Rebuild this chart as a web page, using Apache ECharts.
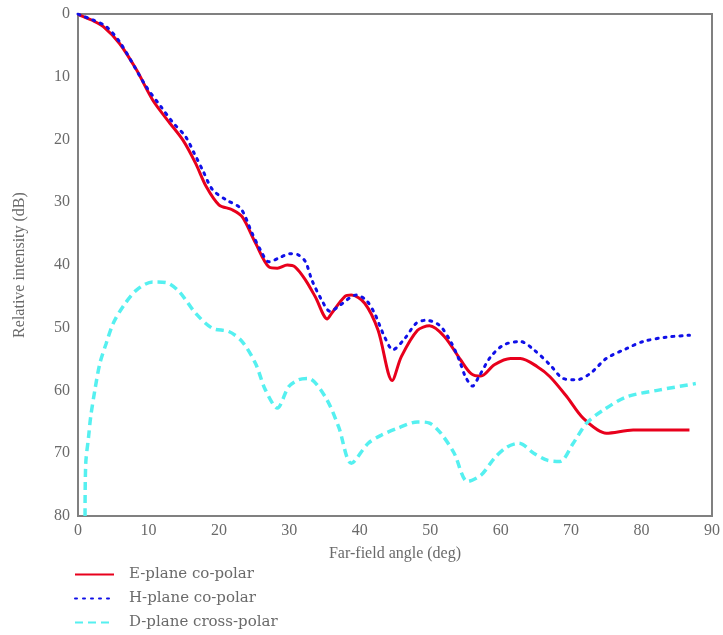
<!DOCTYPE html>
<html>
<head>
<meta charset="utf-8">
<script src="https://cdn.jsdelivr.net/npm/echarts@6/dist/echarts.min.js"></script>
<style>html,body{margin:0;padding:0;background:#fff}#c{width:723px;height:635px}</style>
</head>
<body>
<div id="c"></div>
<script>
var xTicks = [0, 10, 20, 30, 40, 50, 60, 70, 80, 90];
var yTicks = [0, 10, 20, 30, 40, 50, 60, 70, 80];
var seriesNames = ['E-plane co-polar', 'H-plane co-polar', 'D-plane cross-polar'];

var eAngle = [0, 0.3, 2, 3.6, 5.9, 8.3, 10.6, 12.7, 14.9, 16.7, 18.2, 20.0, 21.9, 23.3, 25.2, 27.1, 28.3, 29.7, 30.8, 32.3, 33.7, 35.4, 36.0, 37.9, 38.8, 40.7, 42.6, 44.6, 45.9, 48.2, 49.9, 52.0, 54.3, 55.8, 57.2, 59.1, 61.4, 62.8, 65.2, 67.0, 69.4, 71.7, 75.0, 78.8, 86.8];
var eDb    = [0, 0.2, 1.0, 2.0, 4.7, 8.9, 13.7, 16.9, 20.1, 23.8, 27.5, 30.4, 31.2, 32.3, 36.5, 40.3, 40.5, 40.0, 40.3, 42.4, 45.1, 48.6, 47.7, 45.0, 44.8, 46.1, 50.4, 58.4, 54.6, 50.4, 49.7, 51.4, 55.1, 57.3, 57.7, 55.9, 54.9, 54.9, 56.2, 57.8, 61.0, 64.4, 66.8, 66.3, 66.3];

var hAngle = [0, 0.4, 2, 4.0, 6.0, 9.7, 11.8, 13.4, 15.3, 16.5, 17.7, 19.1, 21.0, 23.1, 24.7, 25.9, 27.1, 28.5, 30.1, 31.3, 32.3, 33.2, 34.6, 35.8, 37.2, 39.5, 40.9, 42.1, 43.5, 44.7, 46.4, 48.0, 49.4, 51.3, 52.9, 54.1, 55.0, 56.0, 56.9, 58.6, 60.5, 62.8, 64.7, 67.0, 68.9, 70.8, 72.7, 75.0, 77.9, 80.2, 83.5, 86.8];
var hDb    = [0, 0.2, 0.9, 2.0, 4.6, 11.6, 14.8, 17.2, 19.6, 22.2, 24.9, 28.0, 29.6, 31.0, 34.9, 37.6, 39.5, 38.9, 38.2, 38.4, 39.5, 42.4, 45.6, 47.4, 46.4, 44.8, 45.6, 47.7, 51.4, 53.5, 51.7, 49.3, 48.8, 49.6, 52.2, 55.1, 57.8, 59.3, 57.8, 54.6, 52.7, 52.2, 53.5, 55.9, 58.1, 58.3, 57.3, 54.9, 53.3, 52.2, 51.5, 51.2];

var dAngle = [1.0, 1.1, 1.5, 1.8, 2.4, 3.1, 4.0, 5.0, 6.4, 8.3, 10.6, 12.5, 14.4, 16.7, 19.1, 21.4, 23.3, 25.2, 26.6, 28.3, 29.9, 31.3, 32.7, 35.1, 37.0, 38.8, 41.2, 43.1, 45.4, 48.2, 49.9, 51.5, 53.4, 55.3, 57.2, 59.1, 60.9, 62.6, 64.7, 66.6, 68.4, 70.3, 72.2, 74.6, 77.9, 82.6, 87.7];
var dDb    = [80, 71.6, 67.4, 64.2, 59.9, 55.7, 52.5, 49.3, 46.6, 44.0, 42.7, 42.8, 44.3, 47.7, 50.1, 50.6, 52.2, 55.7, 59.9, 62.8, 59.4, 58.3, 58.1, 61.0, 65.8, 71.6, 68.4, 67.1, 66.0, 65.0, 65.2, 66.8, 70.0, 74.5, 73.5, 70.8, 69.0, 68.4, 70.0, 71.1, 71.3, 68.4, 65.2, 63.1, 61.0, 59.9, 58.9];

function zip(a, b) { return a.map(function (v, i) { return [v, b[i]]; }); }

var font = 'Liberation Serif, Times New Roman, serif';
var txt = '#6a6a6a';

var chart = echarts.init(document.getElementById('c'));
chart.setOption({
  animation: false,
  grid: { left: 78, top: 14, right: 7, bottom: 119, show: true, borderColor: '#808080', borderWidth: 2, backgroundColor: 'transparent' },
  xAxis: {
    type: 'value', min: xTicks[0], max: xTicks[xTicks.length - 1], interval: 10,
    name: 'Far-field angle (deg)', nameLocation: 'middle', nameGap: 30,
    nameTextStyle: { fontFamily: font, fontSize: 16, color: txt },
    axisLine: { show: false }, axisTick: { show: false }, splitLine: { show: false },
    axisLabel: { fontFamily: font, fontSize: 16, color: txt, margin: 7 }
  },
  yAxis: {
    type: 'value', inverse: true, min: yTicks[0], max: yTicks[yTicks.length - 1], interval: 10,
    name: 'Relative intensity (dB)', nameLocation: 'middle', nameGap: 50, nameRotate: 90,
    nameTextStyle: { fontFamily: font, fontSize: 16, color: txt },
    axisLine: { show: false }, axisTick: { show: false }, splitLine: { show: false },
    axisLabel: { fontFamily: font, fontSize: 16, color: txt, margin: 8 }
  },
  legend: {
    orient: 'vertical', left: 74, top: 567, padding: 0, itemWidth: 39, itemHeight: 14, itemGap: 9,
    data: seriesNames,
    itemStyle: { opacity: 0 },
    textStyle: { fontFamily: 'DejaVu Serif, serif', fontSize: 15, color: txt, padding: [0, 0, 0, 10] }
  },
  series: [
    { name: seriesNames[0], type: 'line', data: zip(eAngle, eDb), smooth: 0.3, symbol: 'none',
      lineStyle: { color: '#e8001c', width: 3 }, itemStyle: { color: '#e8001c' } },
    { name: seriesNames[1], type: 'line', data: zip(hAngle, hDb), smooth: 0.3, symbol: 'none',
      lineStyle: { color: '#1010e8', width: 3, type: [2, 6], cap: 'round' }, itemStyle: { color: '#1010e8' } },
    { name: seriesNames[2], type: 'line', data: zip(dAngle, dDb), smooth: 0.3, symbol: 'none',
      lineStyle: { color: '#55f0f0', width: 3.5, type: [8, 5] }, itemStyle: { color: '#55f0f0' } }
  ]
});
</script>
</body>
</html>
